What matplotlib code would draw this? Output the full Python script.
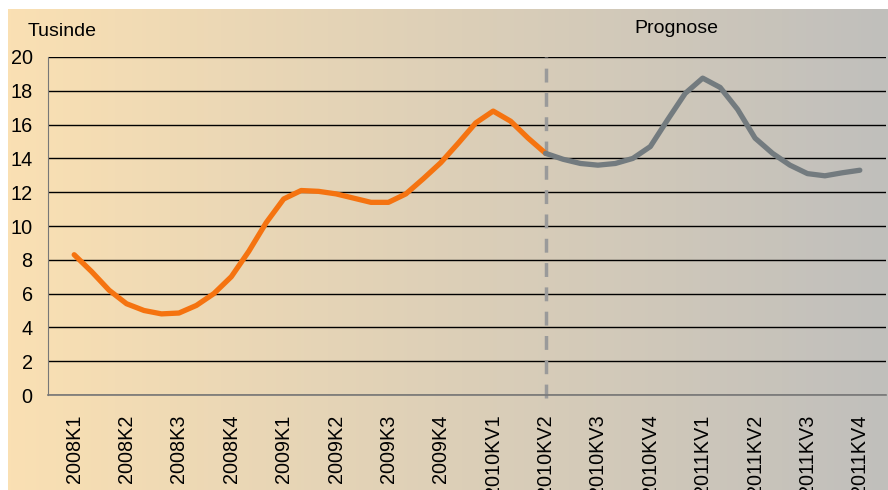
import matplotlib.pyplot as plt
import numpy as np
from matplotlib.colors import LinearSegmentedColormap

plt.rcParams['font.family'] = ['Liberation Sans', 'DejaVu Sans']

quarters = ["2008K1", "2008K2", "2008K3", "2008K4",
            "2009K1", "2009K2", "2009K3", "2009K4",
            "2010KV1", "2010KV2", "2010KV3", "2010KV4",
            "2011KV1", "2011KV2", "2011KV3", "2011KV4"]

# monthly values, thousands (Tusinde)
actual = [8.3, 7.3, 6.2, 5.4, 5.0, 4.8, 4.85, 5.3, 6.0, 7.0,
          8.5, 10.2, 11.6, 12.1, 12.05, 11.9, 11.65, 11.4, 11.4, 11.9,
          12.8, 13.75, 14.9, 16.1, 16.8, 16.2, 15.2, 14.3]
forecast = [14.3, 13.95, 13.7, 13.6, 13.7, 14.0, 14.7, 16.3, 17.85, 18.75,
            18.2, 16.9, 15.2, 14.3, 13.6, 13.1, 12.97, 13.15, 13.3]

x_act = np.arange(len(actual)) / 3
x_fc = (len(actual) - 1 + np.arange(len(forecast))) / 3

fig = plt.figure(figsize=(8.88, 4.9), dpi=100)

# gradient background (peach -> grey)
bg = fig.add_axes([8 / 888, 0, 880 / 888, 1 - 9 / 490], zorder=-10)
cmap = LinearSegmentedColormap.from_list("bg", ["#FAE0B3", "#C0BFBC"])
bg.imshow(np.linspace(0, 1, 256).reshape(1, -1), aspect="auto", cmap=cmap,
          extent=[0, 1, 0, 1])
bg.set_axis_off()

ax = fig.add_axes([48 / 888, 1 - 395 / 490, 838 / 888, 338 / 490])
ax.patch.set_alpha(0)

ax.set_ylim(0, 20)
ax.set_xlim(-0.5, len(quarters) - 0.5)
ax.set_yticks(np.arange(0, 21, 2))
ax.set_xticks(np.arange(len(quarters)))
ax.set_xticklabels(quarters, rotation=90)
ax.tick_params(axis="both", length=0, labelsize=14.3)
ax.tick_params(axis="x", pad=14)
ax.tick_params(axis="y", pad=11)

ax.grid(True, axis="y", color="black", linewidth=1)
ax.set_axisbelow(True)
for s in ["top", "right"]:
    ax.spines[s].set_visible(False)
ax.spines["left"].set_color("#777777")
ax.spines["bottom"].set_color("#777777")
ax.spines["bottom"].set_linewidth(1.2)

ax.axvline(9, color="#9A9A9A", linewidth=2.5, linestyle=(0, (4, 3)),
           ymin=-0.01, ymax=1, clip_on=False, zorder=2)

ax.plot(x_act, actual, color="#F57310", linewidth=3.8,
        solid_capstyle="round", solid_joinstyle="round", zorder=3)
ax.plot(x_fc, forecast, color="#737B7F", linewidth=3.8,
        solid_capstyle="round", solid_joinstyle="round", zorder=3)

fig.text(28 / 888, 1 - 36 / 490, "Tusinde", fontsize=14, ha="left",
         va="baseline")
fig.text(676 / 888, 1 - 33 / 490, "Prognose", fontsize=14, ha="center",
         va="baseline")

plt.savefig("out.png", dpi=100)
